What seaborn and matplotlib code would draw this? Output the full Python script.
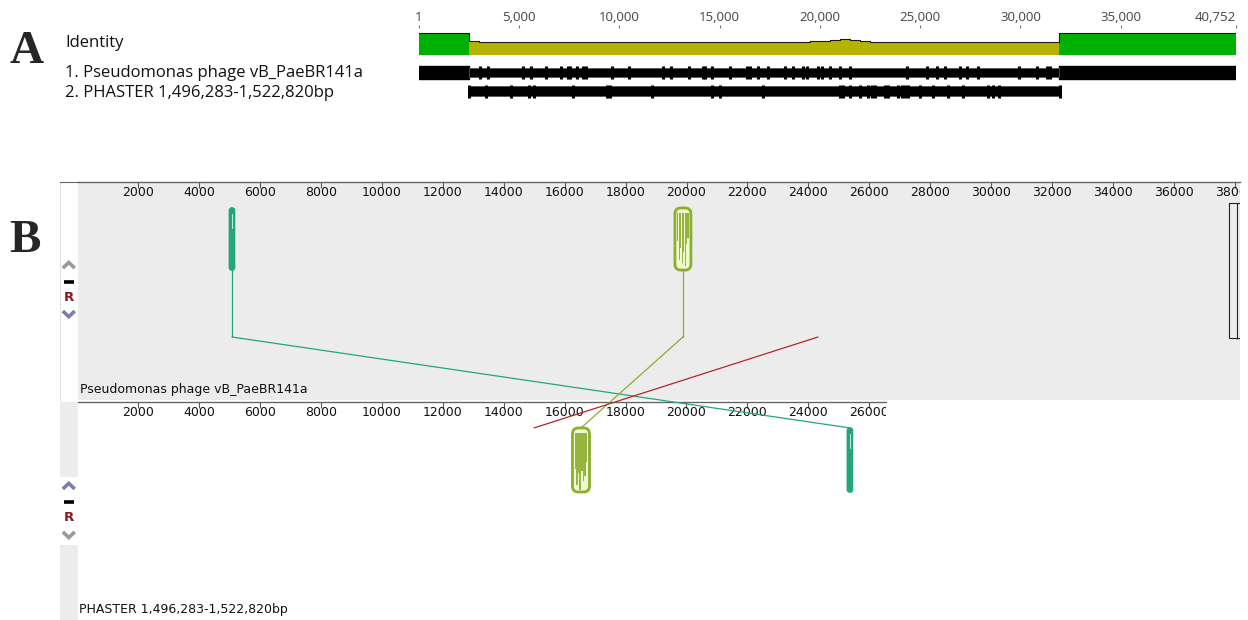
import matplotlib
matplotlib.use("Agg")
import matplotlib.pyplot as plt
import seaborn as sns
import numpy as np
from matplotlib.patches import FancyBboxPatch, Rectangle, ConnectionPatch

sns.set_style("white")
plt.rcParams["font.family"] = ["DejaVu Sans"]

# ---------------- Panel A: whole-genome alignment ----------------
genome_len = 40752
a_tick_pos = [1, 5000, 10000, 15000, 20000, 25000, 30000, 35000, 40752]
a_tick_lab = ["1", "5,000", "10,000", "15,000", "20,000", "25,000", "30,000", "35,000", "40,752"]
aligned_start, aligned_end = 2510, 31936
window = 500
identity = [62, 60, 61, 59, 61, 60, 59, 61, 60, 59,
            60, 61, 59, 60, 61, 60, 59, 60, 61, 60,
            59, 61, 60, 59, 60, 61, 60, 59, 61, 60,
            59, 60, 61, 60, 62, 64, 68, 74, 70, 64,
            61, 59, 60, 59, 61, 60, 59, 61, 60, 59,
            60, 61, 59, 60, 61, 60, 59, 60, 61]
seq1_marks = [3035, 3433, 5174, 5572, 6318, 7065, 7413, 7512, 7861, 8159, 8308,
              9652, 10498, 12189, 12587, 13483, 14179, 14279, 14627, 15522, 16368,
              16517, 16915, 17413, 18259, 18657, 19154, 19353, 19900, 20099, 20497,
              20995, 21493, 24328, 25323, 25821, 26219, 26965, 27313, 27861, 29950,
              30846, 31343, 31493]
seq2_span = (2510, 31960)
seq2_marks = [3333, 4577, 5473, 5721, 7662, 9403, 9552, 11642, 14627, 15025, 17164,
              20995, 21160, 21493, 21990, 22388, 22587, 22736, 23234, 23383, 23881,
              24080, 24229, 24378, 24975, 25622, 26368, 27114, 28358, 28607, 28955]
a_labels = ["Identity", "1. Pseudomonas phage vB_PaeBR141a",
            "2. PHASTER 1,496,283-1,522,820bp"]

# ---------------- Panel B: Mauve LCB view ----------------
genome_names = ["Pseudomonas phage vB_PaeBR141a", "PHASTER 1,496,283-1,522,820bp"]
b_top_ticks = list(range(2000, 38001, 2000))
b_bot_ticks = list(range(2000, 26001, 2000))
top_xmax, bot_xmax = 38177, 26552
lcb_colors = ["#22a67a", "#8cad2e", "#b0282c"]
lcb_top_start = [4990, 19620, 24318]
lcb_top_len = [165, 525, 0]
lcb_bot_start = [25285, 16255, 14992]
lcb_bot_len = [165, 560, 0]
top_profile = [0.45, 0.75, 0.55, 0.80, 0.62, 0.85, 0.50, 0.40]
bot_profile = [0.55, 0.80, 0.62, 0.88, 0.58, 0.75, 0.66, 0.45]
contig_box = (37825, 38070)

W, H = 1248, 620
fig = plt.figure(figsize=(W / 100, H / 100), dpi=100)


def box(x0, y0, x1, y1):
    return [x0 / W, 1 - y1 / H, (x1 - x0) / W, (y1 - y0) / H]


# ---- panel letters
fig.text(27 / W, 1 - 52 / H, "A", family="Liberation Serif", weight="bold",
         fontsize=34, ha="center", va="center")
fig.text(25 / W, 1 - 241 / H, "B", family="Liberation Serif", weight="bold",
         fontsize=34, ha="center", va="center")

# ---- panel A track names
for lab, yy in zip(a_labels, [43, 73, 93]):
    fig.text(65 / W, 1 - yy / H, lab, family="Open Sans", fontsize=12,
             ha="left", va="center", color="#111111")

# ---- identity track
ax_id = fig.add_axes(box(419, 28, 1236, 55))
ax_id.set_xlim(1, genome_len)
ax_id.set_ylim(0, 100 * 27 / 22)
id_x = [aligned_start + window * i for i in range(len(identity))] + [aligned_end]
id_y = identity + [identity[-1]]
ax_id.fill_between(id_x, 0, id_y, step="post", color="#b4b400", lw=0)
ax_id.fill_between([1, aligned_start], 0, 100, color="#00b000", lw=0)
ax_id.fill_between([aligned_end, genome_len], 0, 100, color="#00b000", lw=0)
out_x = [1, aligned_start] + id_x[1:-1] + [aligned_end, genome_len]
out_y = [100] + identity + [100, 100]
sns.lineplot(x=out_x, y=out_y, drawstyle="steps-post", color="#1a1a1a",
             lw=0.8, estimator=None, sort=False, ax=ax_id)
for s in ax_id.spines.values():
    s.set_visible(False)
ax_id.set_xticks(a_tick_pos)
ax_id.set_xticklabels(a_tick_lab, family="Open Sans", fontsize=9.5, color="#444444")
ax_id.tick_params(axis="x", top=True, labeltop=True, bottom=False, labelbottom=False,
                  direction="out", length=2.5, width=0.8, color="#777777", pad=0.3)
ax_id.xaxis.get_major_ticks()[-1].label2.set_horizontalalignment("right")
ax_id.xaxis.get_major_ticks()[-1].label2.set_x(genome_len + 100)
ax_id.set_yticks([])
ax_id.set_facecolor("none")

# ---- sequence tracks
ax_seq = fig.add_axes(box(419, 62, 1236, 100))
ax_seq.set_xlim(1, genome_len)
ax_seq.set_ylim(2, 0)
ax_seq.axis("off")
row1, row2, full_h, thin_h = 0.55, 1.53, 0.68, 0.52
# sequence 1: unaligned ends drawn solid, aligned part thinner with marks
ax_seq.broken_barh([(1, aligned_start - 1), (aligned_end, genome_len - aligned_end)],
                   (row1 - full_h / 2, full_h), color="black")
ax_seq.broken_barh([(aligned_start, aligned_end - aligned_start)],
                   (row1 - thin_h / 2, thin_h), facecolor="black",
                   edgecolor="#555555", lw=0.6)
ax_seq.vlines(seq1_marks, row1 - full_h / 2, row1 + full_h / 2, color="black", lw=2.2)
ax_seq.broken_barh([(seq2_span[0], seq2_span[1] - seq2_span[0])],
                   (row2 - thin_h / 2, thin_h), facecolor="black",
                   edgecolor="#555555", lw=0.6)
ax_seq.vlines(seq2_marks + list(seq2_span), row2 - full_h / 2, row2 + full_h / 2,
              color="black", lw=2.2)

# ---------------- Panel B axes ----------------
ax_top = fig.add_axes(box(77.5, 182, 1240, 400))
ax_bot = fig.add_axes(box(77.5, 402, 886, 620))
ax_top.set_facecolor("#ececec")
ax_bot.set_facecolor("white")
for ax, xmax, ticks, name in [(ax_top, top_xmax, b_top_ticks, genome_names[0]),
                              (ax_bot, bot_xmax, b_bot_ticks, genome_names[1])]:
    ax.set_xlim(0, xmax)
    ax.set_ylim(1, 0)
    for k, s in ax.spines.items():
        s.set_visible(k == "top")
    ax.spines["top"].set_color("#666666")
    ax.spines["top"].set_linewidth(1.0)
    ax.set_xticks(ticks)
    ax.set_xticklabels([str(t) for t in ticks], fontsize=9, color="#111111")
    ax.tick_params(axis="x", top=True, labeltop=True, bottom=False, labelbottom=False,
                   direction="in", length=4, width=0.8, color="#555555", pad=-12.5)
    ax.set_yticks([])
    for tk in ax.xaxis.get_major_ticks():
        tk.label2.set_clip_on(True)
        tk.label2.set_clip_box(ax.bbox)
    ax.text(0.002, 0.048, name, transform=ax.transAxes, fontsize=9,
            ha="left", va="center", color="#111111")

# left control columns
ax_lt = fig.add_axes(box(60, 182, 77.5, 400))
ax_lb = fig.add_axes(box(60, 402, 77.5, 620))
ax_lt.set_facecolor("white")
ax_lb.set_facecolor("#ececec")
ax_lb.add_patch(Rectangle((0, 0.344), 1, 0.312, color="white", lw=0))
for ax in (ax_lt, ax_lb):
    ax.set_xlim(0, 1)
    ax.set_ylim(1, 0)
    ax.set_xticks([])
    ax.set_yticks([])
    for k, s in ax.spines.items():
        s.set_visible(False)
ax_lt.spines["left"].set_visible(True)
ax_lt.spines["left"].set_color("#e2e2e2")
ax_lt.spines["top"].set_visible(True)
ax_lt.spines["top"].set_color("#666666")

grey_c, blue_c = "#9a9a9a", "#7c7cae"


def controls(ax, ys, up_col, down_col):
    yu, yd, yr, ydn = ys
    ax.plot([0.16, 0.5, 0.84], [yu + 0.014, yu - 0.012, yu + 0.014], color=up_col,
            lw=2.6, solid_capstyle="butt", solid_joinstyle="miter")
    ax.plot([0.22, 0.78], [yd, yd], color="black", lw=2.6, solid_capstyle="butt")
    ax.text(0.5, yr, "R", color="#8b1a1a", weight="bold", fontsize=9.5,
            ha="center", va="center")
    ax.plot([0.16, 0.5, 0.84], [ydn - 0.014, ydn + 0.012, ydn - 0.014], color=down_col,
            lw=2.6, solid_capstyle="butt", solid_joinstyle="miter")


controls(ax_lt, [0.381, 0.459, 0.530, 0.606], grey_c, blue_c)
controls(ax_lb, [0.385, 0.459, 0.532, 0.610], blue_c, grey_c)

# contig boundary marker on the first genome
ax_top.add_patch(Rectangle((contig_box[0], 0.096), 800, 0.62, facecolor="none",
                           edgecolor="#222222", lw=0.8))
ax_top.vlines(contig_box[1], 0.096, 0.72, color="#222222", lw=0.8)

# ---- LCB blocks and connectors
block_top, block_bot_top, block_bot_bot = 0.119, 0.119, 0.413
top_block_bottom = 0.404
elbow = 0.711


def draw_block(ax, start, length, color, yb0, yb1, xpx, profile):
    asp = (1 / 218) / (1 / xpx)
    if length < 300:
        patch = FancyBboxPatch((start, yb0), length, yb1 - yb0,
                               boxstyle=f"round,pad=0,rounding_size={length / 2}",
                               mutation_aspect=asp, facecolor=color,
                               edgecolor=color, lw=1.2)
        ax.add_patch(patch)
        ax.plot([start + length / 2] * 2, [yb0 + 0.03, yb0 + 0.09], color="#bfe8d8",
                lw=0.8, zorder=3)
    else:
        style = f"round,pad=0,rounding_size={6 / xpx}"
        face = FancyBboxPatch((start, yb0), length, yb1 - yb0, boxstyle=style,
                              mutation_aspect=asp, facecolor="#effbcf",
                              edgecolor="none", zorder=2)
        ax.add_patch(face)
        n = len(profile)
        inner = 2 / xpx
        step = (length - 2 * inner) / n
        xs = [start + inner + step * (i + 0.5) for i in range(n)]
        hs = [p * (yb1 - yb0) for p in profile]
        ax.bar(xs, hs, bottom=yb0 + 0.025, width=step * 0.9, color=color,
               alpha=0.9, zorder=2.5, lw=0)
        edge = FancyBboxPatch((start, yb0), length, yb1 - yb0, boxstyle=style,
                              mutation_aspect=asp, facecolor="none",
                              edgecolor=color, lw=2.0, zorder=3)
        ax.add_patch(edge)


xpx = 0.03045
for i, col in enumerate(lcb_colors):
    cx_top = lcb_top_start[i] + lcb_top_len[i] / 2
    cx_bot = lcb_bot_start[i] + lcb_bot_len[i] / 2
    if lcb_top_len[i] > 0:
        draw_block(ax_top, lcb_top_start[i], lcb_top_len[i], col, block_top,
                   top_block_bottom, xpx, top_profile)
        ax_top.plot([cx_top, cx_top], [top_block_bottom, elbow], color=col, lw=0.9)
    if lcb_bot_len[i] > 0:
        draw_block(ax_bot, lcb_bot_start[i], lcb_bot_len[i], col, block_bot_top,
                   block_bot_bot, xpx, bot_profile)
    con = ConnectionPatch(xyA=(cx_top, elbow), coordsA=ax_top.transData,
                          xyB=(cx_bot, block_bot_top), coordsB=ax_bot.transData,
                          color=col, lw=0.9, zorder=10)
    fig.add_artist(con)

fig.savefig("out.png", dpi=100)
